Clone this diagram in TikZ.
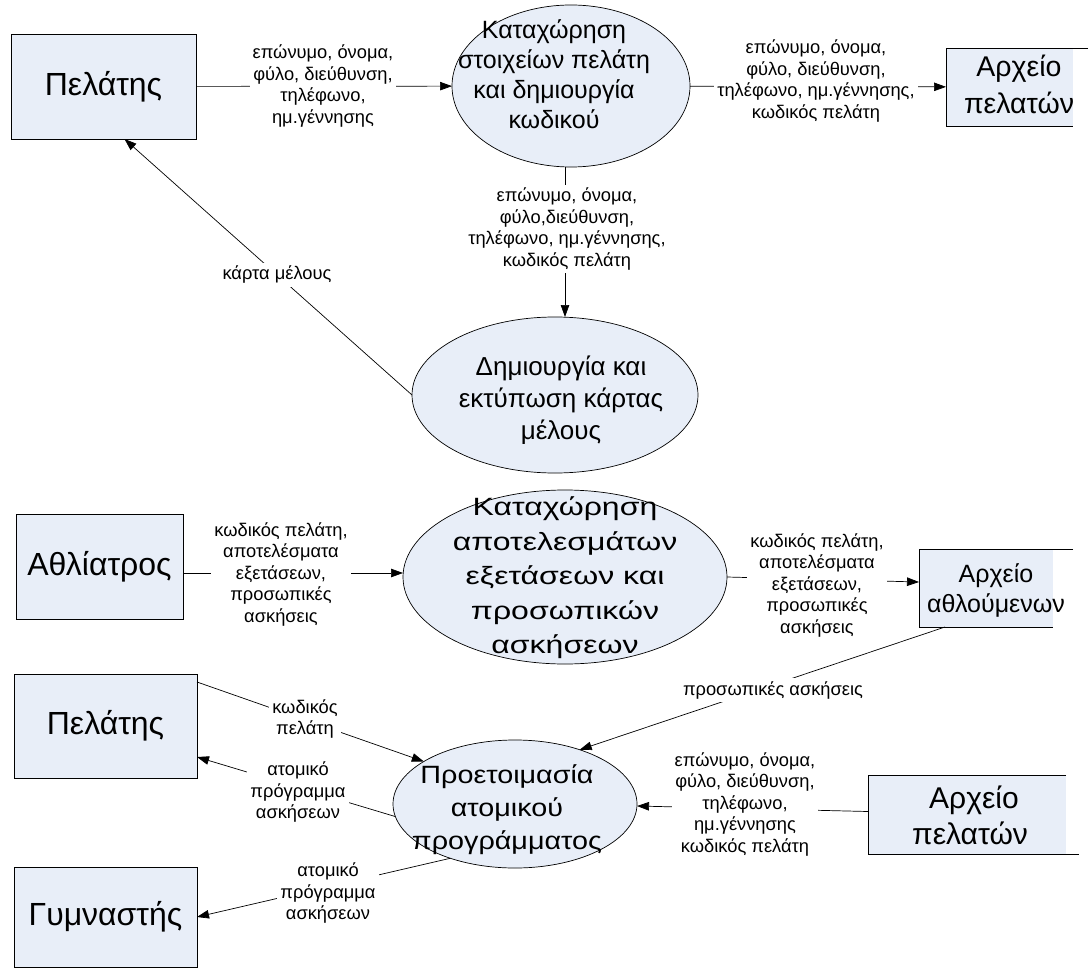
\documentclass[tikz,border=0pt]{standalone}
\usepackage{fontspec}
\setmainfont{Liberation Sans}
\newfontfamily\procwide[FakeStretch=1.28]{Liberation Sans}
\newfontfamily\procmid[FakeStretch=1.15]{Liberation Sans}
\usetikzlibrary{shapes.geometric,arrows.meta}
\definecolor{boxfill}{RGB}{232,238,248}

\begin{document}
\begin{tikzpicture}[x=1pt,y=-1pt,
  every node/.style={inner sep=0pt,outer sep=0pt},
  entity/.style={draw,fill=boxfill,line width=0.8pt,font=\fontsize{32}{38}\selectfont},
  proc/.style={ellipse,draw,fill=boxfill,line width=0.7pt},
  ptext/.style={align=center,font=\fontsize{25}{30}\selectfont},
  store/.style={fill=boxfill},
  storeline/.style={line width=0.8pt},
  flow/.style={line width=0.7pt,-{Triangle[length=12pt,width=8.5pt]}},
  lbl/.style={fill=white,align=center,inner sep=3pt,font=\fontsize{18.3}{21.5}\selectfont},
]
\useasboundingbox (0,0) rectangle (1089,968);

% external entities
\node[entity,minimum width=185pt,minimum height=105pt] (c1) at (103.5,86.5) {Πελάτης};
\node[entity,minimum width=167pt,minimum height=105pt] (c2) at (99.5,566.5) {Αθλίατρος};
\node[entity,minimum width=183pt,minimum height=104pt] (c3) at (105.5,726) {Πελάτης};
\node[entity,minimum width=183pt,minimum height=100pt] (c4) at (105.5,917) {Γυμναστής};

% processes
\node[proc,minimum width=238pt,minimum height=162pt] (p1) at (571,86) {};
\node[ptext] (p1t) at (554,74) {Καταχώρηση\\στοιχείων πελάτη\\και δημιουργία\\κωδικού};
\node[proc,minimum width=286pt,minimum height=156pt] (p2) at (555,395) {};
\node[ptext,font=\fontsize{26}{32}\selectfont] (p2t) at (561,400) {Δημιουργία και\\εκτύπωση κάρτας\\μέλους};
\node[proc,minimum width=324pt,minimum height=174pt] (p3) at (565,577) {};
\node[ptext,font=\procwide\fontsize{25}{34.5}\selectfont] (p3t) at (565,578) {Καταχώρηση\\αποτελεσμάτων\\εξετάσεων και\\προσωπικών\\ασκήσεων};
\node[proc,minimum width=244pt,minimum height=128pt] (p4) at (515,804) {};
\node[ptext,font=\procmid\fontsize{25}{33}\selectfont] (p4t) at (507,810) {Προετοιμασία\\ατομικού\\προγράμματος};

% data stores (open on the right)
\node[store,minimum width=127pt,minimum height=78pt] (s1) at (1009.5,87) {};
\draw[storeline] ([xshift=15pt]s1.north east) -- (s1.north west) -- (s1.south west) -- (s1.south east);
\node[align=center,font=\fontsize{28.5}{37}\selectfont] (s1t) at (1019,84) {Αρχείο\\πελατών};

\node[store,minimum width=134pt,minimum height=78pt] (s2) at (986,588) {};
\draw[storeline] ([xshift=20pt]s2.north east) -- (s2.north west) -- (s2.south west) -- (s2.south east);
\node[align=center,font=\fontsize{25}{30}\selectfont] (s2t) at (996,590) {Αρχείο\\αθλούμενων};

\node[store,minimum width=198pt,minimum height=79pt] (s3) at (967,814.5) {};
\draw[storeline] (s3.north east) -- (s3.north west) -- (s3.south west) -- ([xshift=13pt]s3.south east);
\node[align=center,font=\fontsize{30}{36}\selectfont] (s3t) at (970,815) {\hspace*{8pt}Αρχείο\\πελατών};

% data flows
\draw[flow] (c1) -- (p1);
\draw[flow] (p1) -- (s1);
\draw[flow] ([xshift=-6pt]p1.south) -- ([xshift=10pt]p2.north);
\draw[flow] (p2.west) -- ([xshift=21pt]c1.south);
\draw[flow] ([yshift=-6.5pt]c2.east) -- ([yshift=4pt]p3.west);
\draw[flow] (p3.east) -- ([yshift=6pt]s2.west);
\draw[flow] ([xshift=26pt]s2.south west) -- (p4.40);
\draw[flow] ([yshift=-8pt]c3.north east) -- (p4.155);
\draw[flow] (p4.186) -- ([yshift=21pt]c3.south east);
\draw[flow] (p4.220) -- (c4.east);
\draw[flow] ([yshift=3pt]s3.west) -- ([yshift=-2pt]p4.east);

% flow labels
\node[lbl] (l1) at (323,86) {επώνυμο, όνομα,\\φύλο, διεύθυνση,\\τηλέφωνο,\\ημ.γέννησης};
\node[lbl] (l2) at (816,81) {επώνυμο, όνομα,\\φύλο, διεύθυνση,\\τηλέφωνο, ημ.γέννησης,\\κωδικός πελάτη};
\node[lbl] (l3) at (567,229) {επώνυμο, όνομα,\\φύλο,διεύθυνση,\\τηλέφωνο, ημ.γέννησης,\\κωδικός πελάτη};
\node[lbl] (l4) at (277,275) {κάρτα μέλους};
\node[lbl] (l5) at (281,574) {κωδικός πελάτη,\\αποτελέσματα\\εξετάσεων,\\προσωπικές\\ασκήσεις};
\node[lbl] (l6) at (817,585) {κωδικός πελάτη,\\αποτελέσματα\\εξετάσεων,\\προσωπικές\\ασκήσεις};
\node[lbl] (l7) at (773,690) {προσωπικές ασκήσεις};
\node[lbl] (l8) at (305,719) {κωδικός\\πελάτη};
\node[lbl] (l9) at (298,792) {ατομικό\\πρόγραμμα\\ασκήσεων};
\node[lbl] (l10) at (328,893) {ατομικό\\πρόγραμμα\\ασκήσεων};
\node[lbl] (l11) at (745,804) {επώνυμο, όνομα,\\φύλο, διεύθυνση,\\τηλέφωνο,\\ημ.γέννησης\\κωδικός πελάτη};
\end{tikzpicture}
\end{document}
